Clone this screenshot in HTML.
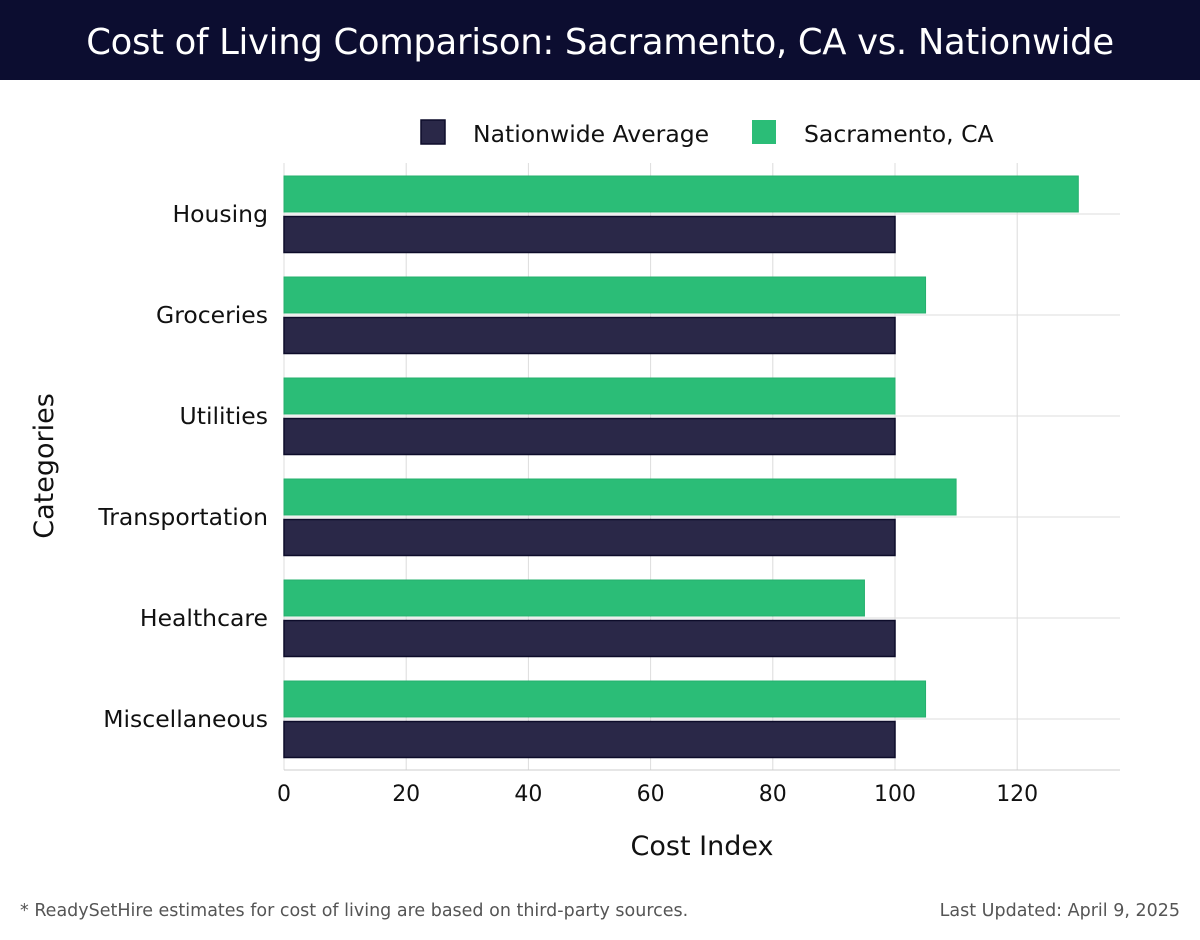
<!DOCTYPE html>
<html><head><meta charset="utf-8"><style>
body{margin:0;width:1200px;height:940px;background:#fff;font-family:"DejaVu Sans","Liberation Sans",sans-serif;overflow:hidden;position:relative}
#hdr{position:absolute;left:0;top:0;width:1200px;height:80px;background:#0c0d30;color:#fff;font-size:35.4px;text-align:center;line-height:86px;letter-spacing:-0.3px}
.foot{position:absolute;top:901px;font-size:17.5px;color:#555}
</style></head><body>
<div id="hdr">Cost of Living Comparison: Sacramento, CA vs. Nationwide</div>
<svg id="chart" width="1200" height="940" style="position:absolute;left:0;top:0"></svg>
<div class="foot" style="left:20px">* ReadySetHire estimates for cost of living are based on third-party sources.</div>
<div class="foot" style="right:20px">Last Updated: April 9, 2025</div>
<script>
const categories=["Housing","Groceries","Utilities","Transportation","Healthcare","Miscellaneous"];
const nationwide=[100,100,100,100,100,100];
const sacramento=[130,105,100,110,95,105];
const ticks=[0,20,40,60,80,100,120];
const NS="http://www.w3.org/2000/svg";
const svg=document.getElementById('chart');
const x0=284,pxPer=6.11,top0=163,bottom0=770,right0=1120,step=101,firstY=214;
const xs=v=>x0+v*pxPer;
const ys=i=>firstY+i*step;
function mk(t,a,txt){const e=document.createElementNS(NS,t);for(const k in a)e.setAttribute(k,a[k]);if(txt!=null)e.textContent=txt;svg.appendChild(e);return e;}
ticks.forEach(t=>{
  const l=mk('line',{x1:xs(t),x2:xs(t),y1:top0,y2:bottom0,stroke:'#dcdcdc','stroke-width':1});
  
  
  const tx=mk('text',{x:xs(t),y:801,'font-size':22,'text-anchor':'middle',fill:'#111','font-family':'DejaVu Sans, sans-serif'},t);
  
  
});
categories.forEach((c,i)=>{
  const y=ys(i);
  const g=mk('line',{x1:x0,x2:right0,y1:y,y2:y,stroke:'#dcdcdc','stroke-width':1});
  
  
  const b1=mk('rect',{x:x0,y:y-38,width:xs(sacramento[i])-x0,height:36,fill:'#2bbd77',stroke:'#25b06e','stroke-width':1});
  
  
  const b2=mk('rect',{x:x0,y:y+2.5,width:xs(nationwide[i])-x0,height:36,fill:'#2a2848',stroke:'#0d0c2a','stroke-width':1.5});
  
  
  const t=mk('text',{x:268,y:y+8,'font-size':23.5,'text-anchor':'end',fill:'#111','font-family':'DejaVu Sans, sans-serif'},c);
  
  
});
const ax=mk('line',{x1:x0,x2:right0,y1:bottom0,y2:bottom0,stroke:'#ccc','stroke-width':1});


const xt=mk('text',{x:702,y:855,'font-size':27,'text-anchor':'middle',fill:'#111','font-family':'DejaVu Sans, sans-serif'},'Cost Index');


const yt=mk('text',{x:0,y:0,'font-size':27,'text-anchor':'middle',fill:'#111','font-family':'DejaVu Sans, sans-serif',transform:'translate(53,466) rotate(-90)'},'Categories');


const l1=mk('rect',{x:421,y:120,width:24,height:24,fill:'#2a2848',stroke:'#0d0c2a','stroke-width':1.5});


const lt1=mk('text',{x:473,y:142,'font-size':23.5,fill:'#111','font-family':'DejaVu Sans, sans-serif'},'Nationwide Average');


const l2=mk('rect',{x:752,y:120,width:24,height:24,fill:'#2bbd77'});


const lt2=mk('text',{x:804,y:142,'font-size':23.5,fill:'#111','font-family':'DejaVu Sans, sans-serif'},'Sacramento, CA');


</script>
</body></html>
